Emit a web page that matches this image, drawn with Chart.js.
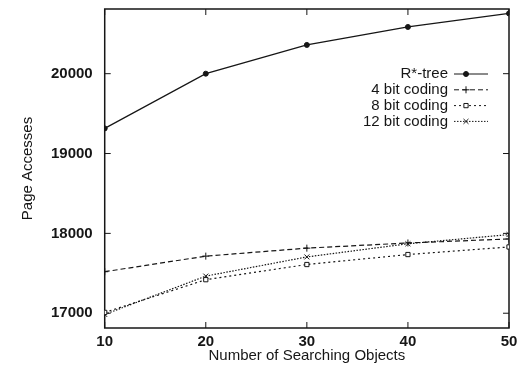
<!DOCTYPE html>
<html>
<head>
<meta charset="utf-8">
<script src="https://cdn.jsdelivr.net/npm/chart.js@4/dist/chart.umd.min.js"></script>
<style>
  html, body { margin: 0; padding: 0; background: #fff; }
  #wrap { width: 530px; height: 370px; }
</style>
</head>
<body>
<div id="wrap"><canvas id="Graph1"></canvas></div>
<script>
let xValues = [10, 20, 30, 40, 50];
let yTicks = [17000, 18000, 19000, 20000];
let seriesNames = ["R*-tree", "4 bit coding", "8 bit coding", "12 bit coding"];
let rtree = [19315, 20000, 20360, 20585, 20755];
let bit4 = [17520, 17715, 17815, 17880, 17930];
let bit8 = [17010, 17420, 17610, 17735, 17830];
let bit12 = [16985, 17465, 17705, 17870, 17985];

let pointStyles = ["circle", "cross", "rect", "crossRot"];
let dashes = [[], [5, 3], [2, 3], [1.5, 1.5]];
let radii = [2.5, 3.5, 3, 3.5];
let allSeries = [rtree, bit4, bit8, bit12];

let inkColor = "#161616";
let fontName = "'Liberation Sans', Arial, sans-serif";

let datasets = allSeries.map(function (vals, i) {
    return {
        label: seriesNames[i],
        data: xValues.map(function (x, j) { return { x: x, y: vals[j] }; }),
        borderColor: inkColor,
        backgroundColor: i == 0 ? inkColor : "#fff",
        pointBackgroundColor: i == 0 ? inkColor : "#fff",
        pointBorderColor: inkColor,
        borderWidth: 1.2,
        borderDash: dashes[i],
        pointStyle: pointStyles[i],
        pointRadius: radii[i],
        pointBorderWidth: 1,
        tension: 0
    };
});

// gnuplot style frame with inward tick marks
let framePlugin = {
    id: "frame",
    beforeDatasetsDraw(chart) {
        let ctx = chart.ctx;
        let a = chart.chartArea;
        let xs = chart.scales.x;
        let ys = chart.scales.y;
        ctx.save();
        ctx.strokeStyle = inkColor;
        ctx.lineWidth = 1.5;
        ctx.strokeRect(a.left, a.top, a.right - a.left, a.bottom - a.top);
        ctx.lineWidth = 1;
        ctx.beginPath();
        yTicks.forEach(function (v) {
            let p = ys.getPixelForValue(v);
            ctx.moveTo(a.left, p); ctx.lineTo(a.left + 6, p);
            ctx.moveTo(a.right, p); ctx.lineTo(a.right - 6, p);
        });
        xValues.forEach(function (v) {
            let p = xs.getPixelForValue(v);
            ctx.moveTo(p, a.bottom); ctx.lineTo(p, a.bottom - 6);
            ctx.moveTo(p, a.top); ctx.lineTo(p, a.top + 6);
        });
        ctx.stroke();
        ctx.restore();
    }
};

// key in the upper right, text right aligned, sample on the right
let keyPlugin = {
    id: "key",
    afterDatasetsDraw(chart) {
        let ctx = chart.ctx;
        let a = chart.chartArea;
        ctx.save();
        ctx.font = "15px " + fontName;
        ctx.textAlign = "right";
        ctx.textBaseline = "middle";
        chart.data.datasets.forEach(function (ds, i) {
            let y = a.top + 65 + i * 15.8;
            ctx.fillStyle = inkColor;
            ctx.fillText(ds.label, a.right - 61, y);
            let x0 = a.right - 55, x1 = a.right - 21;
            ctx.strokeStyle = inkColor;
            ctx.lineWidth = 1;
            ctx.setLineDash(ds.borderDash);
            ctx.beginPath();
            ctx.moveTo(x0, y); ctx.lineTo(x1, y);
            ctx.stroke();
            ctx.setLineDash([]);
            ctx.fillStyle = ds.pointBackgroundColor;
            Chart.helpers.drawPoint(ctx, {
                pointStyle: ds.pointStyle,
                radius: ds.pointRadius,
                rotation: 0,
                borderWidth: 1
            }, x0 + 12, y);
        });
        ctx.restore();
    }
};

new Chart("Graph1", {
    type: "line",
    data: { datasets: datasets },
    options: {
        responsive: true,
        maintainAspectRatio: false,
        animation: false,
        layout: { padding: { left: 19, right: 21, top: 8, bottom: 5 } },
        plugins: {
            legend: { display: false },
            tooltip: { enabled: false }
        },
        scales: {
            x: {
                type: "linear",
                min: 10,
                max: 50,
                grid: { display: false, drawTicks: false },
                border: { display: false },
                afterBuildTicks: function (scale) {
                    scale.ticks = xValues.map(function (v) { return { value: v }; });
                },
                ticks: {
                    color: inkColor,
                    padding: 5,
                    maxRotation: 0,
                    callback: function (v) { return String(v); },
                    font: { family: fontName, size: 15, weight: "bold" }
                },
                title: {
                    display: true,
                    text: "Number of Searching Objects",
                    color: inkColor,
                    padding: { top: -9, bottom: 0 },
                    font: { family: fontName, size: 15 }
                }
            },
            y: {
                type: "linear",
                min: 16815,
                max: 20810,
                grid: { display: false, drawTicks: true, tickLength: 12 },
                border: { display: false },
                afterBuildTicks: function (scale) {
                    scale.ticks = yTicks.map(function (v) { return { value: v }; });
                },
                ticks: {
                    color: inkColor,
                    padding: 0,
                    callback: function (v) { return String(v); },
                    font: { family: fontName, size: 15, weight: "bold" }
                },
                title: {
                    display: true,
                    text: "Page Accesses",
                    color: inkColor,
                    padding: { top: 0, bottom: 14 },
                    font: { family: fontName, size: 15 }
                }
            }
        }
    },
    plugins: [framePlugin, keyPlugin]
});
</script>
</body>
</html>
